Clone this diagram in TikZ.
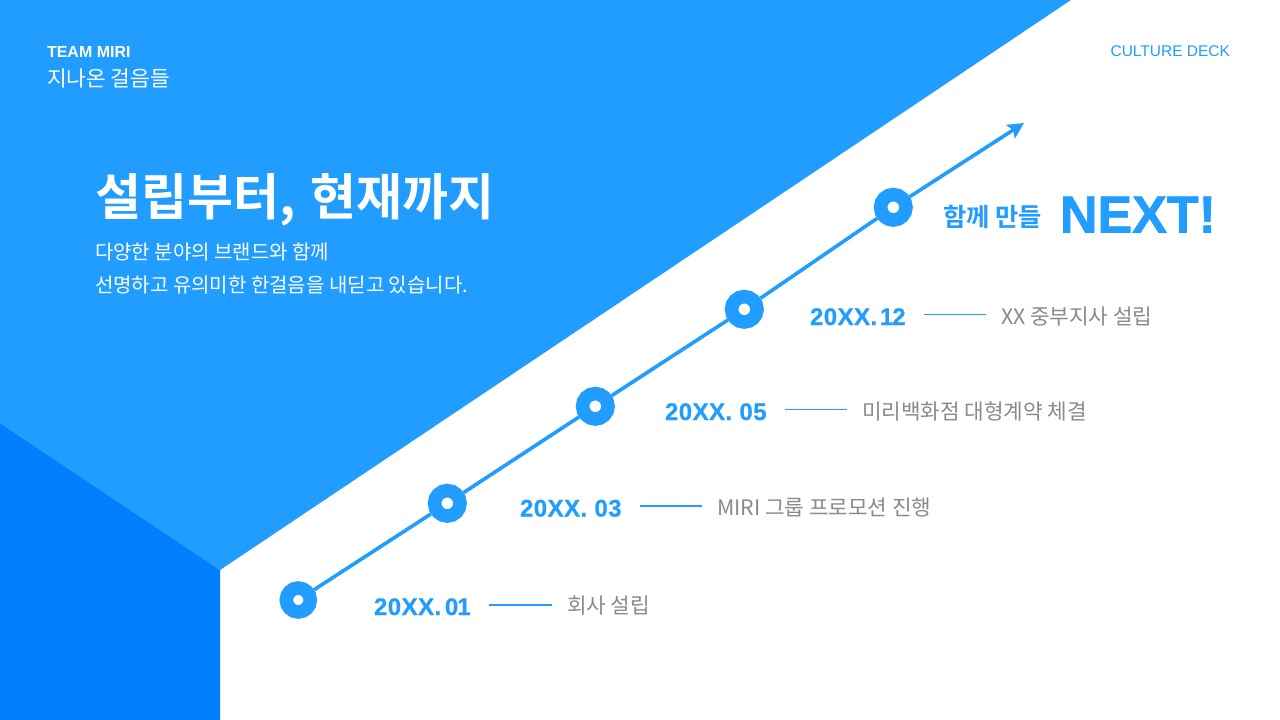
\documentclass[tikz,border=0pt]{standalone}
\usepackage{fontspec}
\setmainfont{Noto Sans CJK KR}
\newfontfamily\krb{Noto Sans CJK KR Bold}
\newfontfamily\kr{Noto Sans CJK KR}
\newfontfamily\lat{Liberation Sans}
\newfontfamily\latb{Liberation Sans Bold}
\newfontfamily\latdate[LetterSpace=2,FakeBold=0.6]{Liberation Sans Bold}
\newfontfamily\latnext[FakeBold=1.2]{Liberation Sans Bold}
\usetikzlibrary{arrows.meta}
\definecolor{mainblue}{HTML}{209DFF}
\definecolor{deepblue}{HTML}{0080FF}
\definecolor{labelgray}{HTML}{8A8A8E}
\tikzset{
  txt/.style={inner sep=0pt,outer sep=0pt,anchor=west,text height=0pt,text depth=0pt},
  ring/.style={circle,draw=mainblue,fill=white,line width=13.5pt,minimum size=25.5pt,inner sep=0pt},
  spine/.style={draw=mainblue,line width=3.6pt},
  rule/.style={draw=mainblue,line width=1.8pt,shorten <=18pt,shorten >=15pt},
  datetxt/.style={txt,text=mainblue,font=\latdate\fontsize{24}{26}\selectfont},
  labeltxt/.style={txt,text=labelgray,font=\kr\fontsize{21.3}{24}\selectfont},
}
\begin{document}
\begin{tikzpicture}[x=1pt,y=-1pt]
\useasboundingbox (0,0) rectangle (1280,720);
\fill[white] (0,0) rectangle (1280,720);
\fill[mainblue] (0,0) -- (1071,0) -- (220,570) -- (0,423) -- cycle;
\fill[deepblue] (0,423) -- (220,570) -- (220,720) -- (0,720) -- cycle;

\node[txt,text=white,font=\latb\fontsize{16}{20}\selectfont] (team) at (47,57) {TEAM MIRI};
\node[txt,text=white,font=\kr\fontsize{21.4}{24}\selectfont] (sub) at (47,86.7) {지나온 걸음들};
\node[txt,anchor=east,text=mainblue,font=\lat\fontsize{15.5}{20}\selectfont] (deck) at (1230,56.7) {CULTURE DECK};
\node[txt,text=white,font=\krb\fontsize{50}{60}\selectfont] (title) at (95,215) {설립부터,\hspace{4pt} 현재까지};
\node[txt,text=white,font=\kr\fontsize{20}{24}\selectfont] (desc1) at (95,259.2) {다양한 분야의 브랜드와 함께};
\node[txt,text=white,font=\kr\fontsize{20}{24}\selectfont] (desc2) at (95,292.2) {선명하고 유의미한 한걸음을 내딛고 있습니다.};

\node[ring,minimum size=24pt] (c1) at (298.3,600) {};
\node[ring] (c2) at (447.3,503.3) {};
\node[ring] (c3) at (595.3,406.3) {};
\node[ring] (c4) at (744.3,309.3) {};
\node[ring] (c5) at (893.3,207.3) {};
\coordinate (tip) at (1024,123);
\draw[spine] (c1) -- (c2);
\draw[spine] (c2) -- (c3);
\draw[spine] (c3) -- (c4);
\draw[spine] (c4) -- (c5);
\draw[spine,-{Stealth[length=16pt,width=16pt,inset=3pt]}] (c5) -- (tip);

\node[datetxt] (d1) at (374,615) {20XX.\kern-3.5pt\ 0\kern-1pt 1};
\node[datetxt] (d2) at (520,516.5) {20XX. 03};
\node[datetxt] (d3) at (665,420) {20XX. 05};
\node[datetxt] (d4) at (810,325) {20XX.\kern-4.5pt\ 1\kern-1pt 2};
\node[labeltxt] (l1) at (567,613.7) {회사 설립};
\node[labeltxt] (l2) at (717,515) {MIRI 그룹 프로모션 진행};
\node[labeltxt] (l3) at (862,419) {미리백화점 대형계약 체결};
\node[labeltxt] (l4) at (1001,324) {XX 중부지사 설립};
\draw[rule] ([yshift=8.7pt]d1.east |- l1.west) -- ([yshift=8.7pt]l1.west);
\draw[rule] ([yshift=9pt]d2.east |- l2.west) -- ([yshift=9pt]l2.west);
\draw[rule] ([yshift=9.5pt]d3.east |- l3.west) -- ([yshift=9.5pt]l3.west);
\draw[rule] ([yshift=9.5pt]d4.east |- l4.west) -- ([yshift=9.5pt]l4.west);

\node[txt,text=mainblue,font=\krb\fontsize{25.3}{30}\selectfont] (make) at (943,226.2) {함께 만들};
\node[txt,text=mainblue,font=\latnext\fontsize{52}{60}\selectfont] (next) at (1060,232.5) {NEXT!};
\end{tikzpicture}
\end{document}
